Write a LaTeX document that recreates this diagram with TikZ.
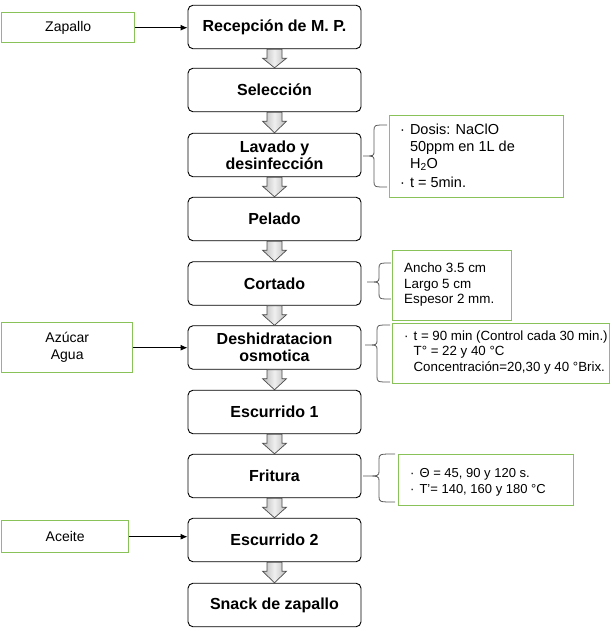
\documentclass[tikz,border=0pt]{standalone}
\usepackage{fontspec}
\setmainfont{Liberation Sans}
\usetikzlibrary{arrows.meta,calc}
\definecolor{gborder}{RGB}{137,194,88}
\newcommand\blockarrow[2]{%
  \draw[draw=black!70, line width=0.7pt, left color=gray!55, right color=gray!55, middle color=gray!12]
    let \p1=(#1.south), \p2=(#2.north) in
    (\x1-7.5pt,\y1) -- (\x1+7.5pt,\y1) -- (\x1+7.5pt,\y1-9pt) -- (\x1+12pt,\y1-9pt)
    -- (\x1,\y2) -- (\x1-12pt,\y1-9pt) -- (\x1-7.5pt,\y1-9pt) -- cycle;}
\newcommand\curlybr[6]{%
  \draw[brc] (#3,#4) .. controls (#2,#4) .. (#2,{#4+6}) -- (#2,{#6-5})
    .. controls (#2,#6) .. (#1,#6) .. controls (#2,#6) .. (#2,{#6+5})
    -- (#2,{#5-6}) .. controls (#2,#5) .. (#3,#5);}
\begin{document}
\begin{tikzpicture}[x=1pt,y=-1pt,
  mainbox/.style={draw=black, line width=0.9pt, rounded corners=5pt, fill=white,
    minimum width=173pt, minimum height=43.5pt, inner sep=0pt, align=center,
    font=\fontsize{16}{17}\selectfont\bfseries},
  sidebox/.style={draw=gborder, line width=1.4pt, inner sep=0pt, align=center,
    font=\fontsize{14}{17}\selectfont},
  gbox/.style={draw=gborder, line width=1.4pt, inner sep=0pt},
  gtext/.style={inner sep=0pt, anchor=west, align=left},
  feed/.style={-{Latex[length=7pt,width=6pt]}, line width=0.9pt},
  brc/.style={draw=black!65, line width=0.8pt},
  ]
\useasboundingbox (0,0) rectangle (612,631);

% main process boxes
\node[mainbox] (rec) at (274.5,27)    {Recepción de M. P.};
\node[mainbox] (sel) at (274.5,90)    {Selección};
\node[mainbox] (lav) at (274.5,155)   {Lavado y\\desinfección};
\node[mainbox] (pel) at (274.5,219)   {Pelado};
\node[mainbox] (cor) at (274.5,283.5) {Cortado};
\node[mainbox] (des) at (274.5,347.5) {Deshidratacion\\osmotica};
\node[mainbox] (es1) at (274.5,412)   {Escurrido 1};
\node[mainbox] (fri) at (274.5,476)   {Fritura};
\node[mainbox] (es2) at (274.5,540)   {Escurrido 2};
\node[mainbox] (sna) at (274.5,605)   {Snack de zapallo};

% block arrows
\blockarrow{rec}{sel}
\blockarrow{sel}{lav}
\blockarrow{lav}{pel}
\blockarrow{pel}{cor}
\blockarrow{cor}{des}
\blockarrow{des}{es1}
\blockarrow{es1}{fri}
\blockarrow{fri}{es2}
\blockarrow{es2}{sna}

% side inputs
\node[sidebox, minimum width=133pt, minimum height=30pt, anchor=north west] (zap) at (1,12) {Zapallo};
\node[sidebox, minimum width=131pt, minimum height=50pt, anchor=north west] (azu) at (1,322) {Azúcar\\Agua};
\node[sidebox, minimum width=127pt, minimum height=32pt, anchor=north west] (ace) at (1,520) {Aceite};

\draw[feed] (zap.east) -- (zap.east -| rec.west);
\draw[feed] (azu.east) -- (azu.east -| des.west);
\draw[feed] (ace.east) -- (ace.east -| es2.west);

% green info boxes
\node[gbox, minimum width=174pt, minimum height=82pt, anchor=north west] (g1) at (389,115) {};
\node[gtext, font=\fontsize{14.5}{17}\selectfont] (g1t) at ([xshift=11pt,yshift=-1pt]g1.west)
  {\begin{tabular}{@{}l@{\hspace{5pt}}l@{}}
   ·& Dosis: NaClO\\
    & 50ppm en 1L de\\
    & H\textsubscript{2}O\\[2pt]
   ·& t = 5min.
   \end{tabular}};

\node[gbox, minimum width=119pt, minimum height=70pt, anchor=north west] (g2) at (392,250) {};
\node[gtext, font=\fontsize{13.4}{15.5}\selectfont] (g2t) at ([xshift=12pt,yshift=1pt]g2.west)
  {Ancho 3.5 cm\\Largo 5 cm\\Espesor 2 mm.};

\node[gbox, minimum width=217pt, minimum height=60pt, anchor=north west] (g3) at (392,323) {};
\node[gtext, font=\fontsize{13.3}{15.5}\selectfont] (g3t) at ([xshift=12pt,yshift=1pt]g3.west)
  {\begin{tabular}{@{}l@{\hspace{5pt}}l@{}}
   ·& t = 90 min (Control cada 30 min.)\\
    & T° = 22 y 40 °C\\
    & Concentración=20,30 y 40 °Brix.
   \end{tabular}};

\node[gbox, minimum width=175pt, minimum height=51pt, anchor=north west] (g4) at (398,454) {};
\node[gtext, font=\fontsize{13}{16.5}\selectfont] (g4t) at ([xshift=12pt,yshift=-2pt]g4.west)
  {\begin{tabular}{@{}l@{\hspace{5pt}}l@{}}
   ·& Θ = 45, 90 y 120 s.\\
   ·& T'= 140, 160 y 180 °C
   \end{tabular}};

% braces
\curlybr{363}{374}{387}{125}{187}{156}
\curlybr{367}{379}{391}{263}{299}{282}
\curlybr{365}{377}{390}{325}{382}{345}
\curlybr{363}{379}{395}{454}{502}{476}
\end{tikzpicture}
\end{document}
